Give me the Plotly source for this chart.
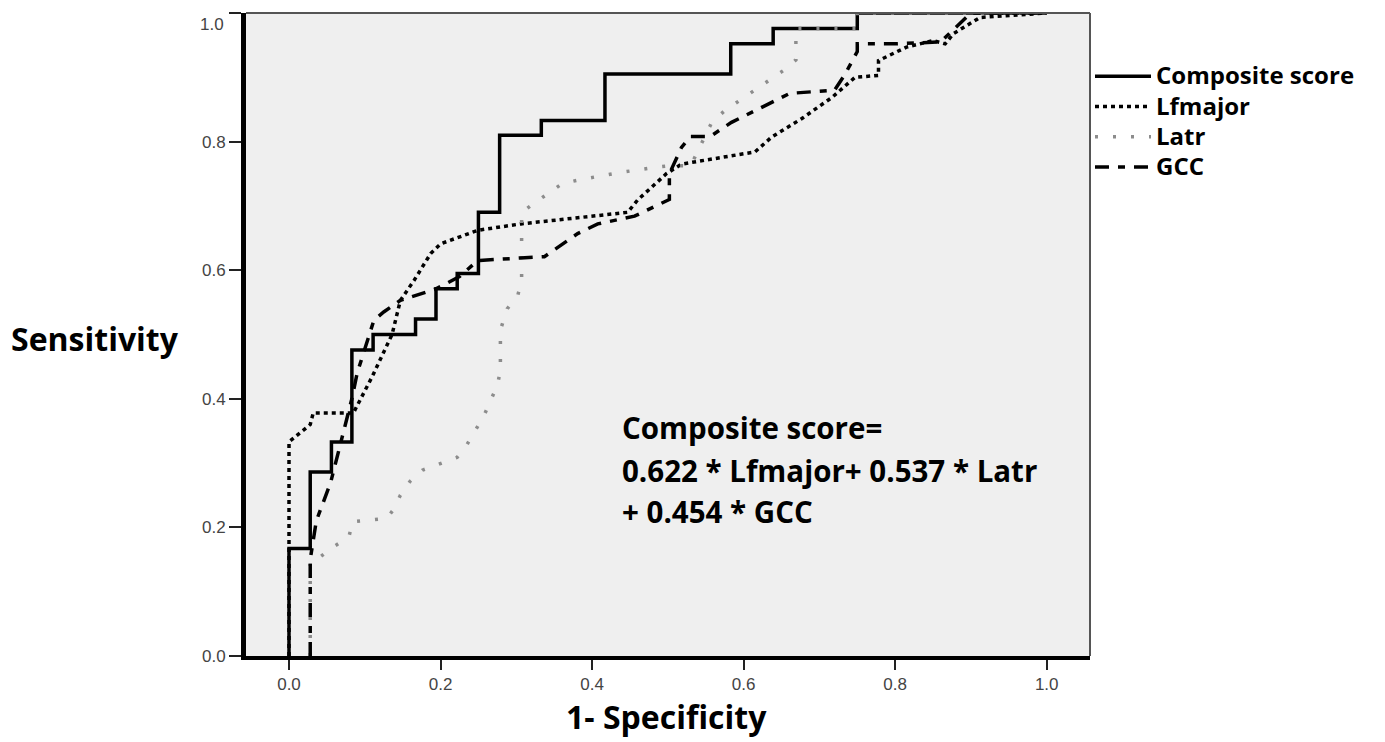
import plotly.graph_objects as go

# ---- data ----
comp_fpr = [0, 0, 0.028, 0.028, 0.056, 0.056, 0.083, 0.083, 0.111, 0.111, 0.167, 0.167,
            0.194, 0.194, 0.222, 0.222, 0.25, 0.25, 0.278, 0.278, 0.333, 0.333, 0.417, 0.417,
            0.583, 0.583, 0.639, 0.639, 0.75, 0.75, 1.0]
comp_tpr = [0, 0.167, 0.167, 0.286, 0.286, 0.333, 0.333, 0.476, 0.476, 0.5, 0.5, 0.524,
            0.524, 0.571, 0.571, 0.595, 0.595, 0.69, 0.69, 0.81, 0.81, 0.833, 0.833, 0.905,
            0.905, 0.952, 0.952, 0.976, 0.976, 1.0, 1.0]

lfm_fpr = [0, 0, 0.028, 0.032, 0.085, 0.11, 0.136, 0.147, 0.165, 0.187, 0.20, 0.249, 0.306,
           0.447, 0.46, 0.498, 0.518, 0.615, 0.637, 0.677, 0.717, 0.747, 0.778, 0.778, 0.815,
           0.85, 0.866, 0.877, 0.912, 1.0]
lfm_tpr = [0, 0.333, 0.36, 0.378, 0.378, 0.435, 0.50, 0.553, 0.584, 0.626, 0.641, 0.662, 0.672,
           0.690, 0.709, 0.75, 0.765, 0.784, 0.807, 0.836, 0.869, 0.90, 0.903, 0.926, 0.947,
           0.957, 0.952, 0.968, 0.993, 1.0]

latr_fpr = [0.028, 0.028, 0.041, 0.059, 0.079, 0.084, 0.129, 0.138, 0.147, 0.16, 0.176, 0.2,
            0.222, 0.235, 0.246, 0.257, 0.266, 0.275, 0.279, 0.279, 0.288, 0.302, 0.307, 0.307,
            0.321, 0.341, 0.361, 0.385, 0.432, 0.483, 0.507, 0.53, 0.539, 0.558, 0.575, 0.615,
            0.653, 0.669, 0.669, 0.75, 0.75, 1.0]
latr_tpr = [0, 0.15, 0.154, 0.170, 0.185, 0.209, 0.214, 0.228, 0.25, 0.272, 0.289, 0.299,
            0.309, 0.329, 0.35, 0.373, 0.397, 0.421, 0.444, 0.507, 0.54, 0.561, 0.584, 0.69,
            0.702, 0.719, 0.735, 0.741, 0.751, 0.760, 0.763, 0.762, 0.784, 0.83, 0.848, 0.88,
            0.911, 0.927, 0.976, 0.976, 1.0, 1.0]

gcc_fpr = [0.028, 0.028, 0.036, 0.055, 0.083, 0.09, 0.112, 0.125, 0.147, 0.194, 0.225,
           0.249, 0.306, 0.337, 0.381, 0.4075, 0.456, 0.494, 0.502, 0.502, 0.518, 0.53, 0.556,
           0.584, 0.624, 0.661, 0.72, 0.734, 0.75, 0.75, 0.80, 0.86, 0.9, 1.0]
gcc_tpr = [0, 0.15, 0.21, 0.27, 0.40, 0.44, 0.522, 0.535, 0.553, 0.571, 0.59,
           0.615, 0.619, 0.621, 0.657, 0.672, 0.684, 0.706, 0.71, 0.75, 0.791, 0.808, 0.808,
           0.83, 0.854, 0.875, 0.88, 0.905, 0.94, 0.952, 0.952, 0.955, 1.0, 1.0]

series_names = ["Composite score", "Lfmajor", "Latr", "GCC"]
x_ticks = [0.0, 0.2, 0.4, 0.6, 0.8, 1.0]
y_ticks = [0.0, 0.2, 0.4, 0.6, 0.8, 1.0]
tick_text = ["0.0", "0.2", "0.4", "0.6", "0.8", "1.0"]
formula_lines = ["Composite score=", "0.622 * Lfmajor+ 0.537 * Latr", "+ 0.454 * GCC"]

# ---- figure ----
W, H = 1385, 742
OFF = 8  # page offset observed in the screenshot
# target plot area in screenshot pixels
PL, PR, PT, PB = 246, 1090, 13, 656
PW, PH = PR - PL, PB - PT
ML, MT = PL - OFF, PT - OFF
MR = W - ML - PW
MB = H - MT - PH
X0_PX, X1_PX = 289.0, 1046.7  # pixel positions of fpr 0 and 1
XUNIT = X1_PX - X0_PX

def px_x(px):
    return (px - PL) / PW

def px_y(py):
    return (PB - py) / PH

fig = go.Figure()
fig.add_trace(go.Scatter(x=comp_fpr, y=comp_tpr, mode="lines", name=series_names[0],
                         line=dict(color="black", width=3.5, dash="solid")))
fig.add_trace(go.Scatter(x=lfm_fpr, y=lfm_tpr, mode="lines", name=series_names[1],
                         line=dict(color="black", width=3.5, dash="4px,4px")))
fig.add_trace(go.Scatter(x=latr_fpr, y=latr_tpr, mode="lines", name=series_names[2],
                         line=dict(color="#8c8c8c", width=3.5, dash="3px,15px")))
fig.add_trace(go.Scatter(x=gcc_fpr, y=gcc_tpr, mode="lines", name=series_names[3],
                         line=dict(color="black", width=3.5, dash="14px,9px,7px,9px")))

tickfont = dict(family="Liberation Sans", size=17, color="#444444")
# the top y label sits just below its tick in the reference (clamped at the frame edge)
y_ticktext = tick_text[:-1] + [""]
fig.update_xaxes(range=[(PL - X0_PX) / XUNIT, (PR - X0_PX) / XUNIT],
                 tickvals=x_ticks, ticktext=tick_text,
                 showgrid=False, zeroline=False, showline=True, linecolor="black",
                 linewidth=4, ticks="outside", ticklen=10, tickwidth=1.5, tickcolor="#222",
                 tickfont=tickfont, automargin=False, ticklabeloverflow="allow")
fig.update_yaxes(range=[0, 1], tickvals=y_ticks, ticktext=y_ticktext,
                 showgrid=False, zeroline=False, showline=True, linecolor="black",
                 linewidth=5, ticks="outside", ticklen=12, tickwidth=1.5, tickcolor="#222",
                 tickfont=tickfont, automargin=False, ticklabeloverflow="allow")
fig.add_annotation(text=tick_text[-1], xref="paper", yref="paper", x=px_x(226), y=px_y(13),
                   xanchor="right", yanchor="top", showarrow=False, font=tickfont)

# top and right thin borders
fig.add_shape(type="line", xref="paper", yref="paper", x0=0, x1=1, y0=1, y1=1,
              line=dict(color="#555555", width=2))
fig.add_shape(type="line", xref="paper", yref="paper", x0=1, x1=1, y0=0, y1=1,
              line=dict(color="#555555", width=2))

bold = dict(family="Open Sans", size=29.5, color="black", weight="bold")
for txt, yy in zip(formula_lines, [427, 470, 511]):
    fig.add_annotation(text=txt, xref="paper", yref="paper", x=px_x(620), y=px_y(yy),
                       xanchor="left", yanchor="middle", showarrow=False, font=bold)

title_font = dict(family="Open Sans", size=32, color="black", weight="bold")
fig.add_annotation(text="Sensitivity", xref="paper", yref="paper", x=px_x(9), y=px_y(338),
                   xanchor="left", yanchor="middle", showarrow=False, font=title_font)
fig.add_annotation(text="1- Specificity", xref="paper", yref="paper", x=px_x(666),
                   y=px_y(716), xanchor="center", yanchor="middle", showarrow=False,
                   font=title_font)

legend_names = ['<span style="font-size:24px">%s</span>' % n for n in series_names]
for tr, nm in zip(fig.data, legend_names):
    tr.name = nm

fig.update_layout(
    width=W, height=H,
    margin=dict(l=ML, r=MR, t=MT, b=MB, autoexpand=False),
    paper_bgcolor="white", plot_bgcolor="#efefef",
    showlegend=True,
    legend=dict(x=px_x(1090), y=px_y(56), xanchor="left", yanchor="top",
                font=dict(family="Open Sans", size=21, color="black", weight="bold"),
                itemwidth=56, tracegroupgap=0, bgcolor="rgba(0,0,0,0)"),
)

fig.write_html("out.html")
